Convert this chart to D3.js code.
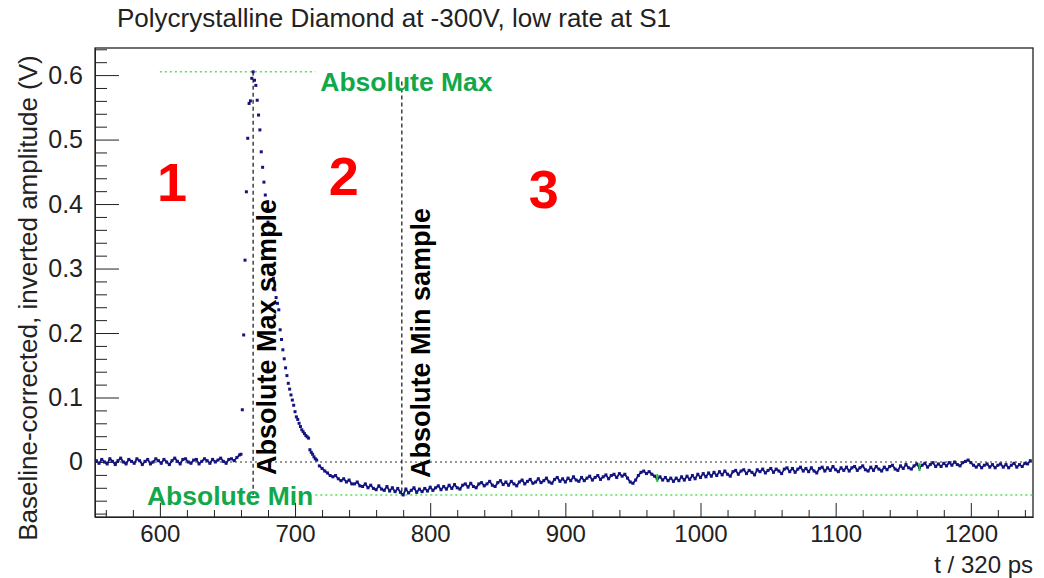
<!DOCTYPE html>
<html>
<head>
<meta charset="utf-8">
<script src="https://cdn.jsdelivr.net/npm/d3@7/dist/d3.min.js"></script>
<style>
  body { margin: 0; background: #fff; }
  svg { display: block; font-family: "Liberation Sans", Arial, sans-serif; }
</style>
</head>
<body>
<div id="chart"></div>
<script>
// Titel und Achsen
const chartTitle = "Polycrystalline Diamond at -300V, low rate at S1";
const xLabel = "t / 320 ps";
const yLabel = "Baseline-corrected, inverted amplitude (V)";
const xTicks = [600, 700, 800, 900, 1000, 1100, 1200];
const yTicks = [0, 0.1, 0.2, 0.3, 0.4, 0.5, 0.6];

// Baseline vor dem Puls (t = 553, 555, ... 659)
const preStart = 553, preStep = 2;
const preValues = [
  0.002, -0.002, 0.004, 0.000, -0.003, 0.005, 0.001, -0.004, 0.002, 0.006,
  0.000, -0.003, 0.004, 0.001, -0.002, 0.005, 0.002, -0.004, 0.001, 0.004,
  -0.003, 0.000, 0.005, 0.002, -0.002, 0.004, 0.000, -0.004, 0.002, 0.006,
  0.001, -0.003, 0.004, 0.005, 0.000, -0.002, 0.003, 0.004, -0.003, 0.001,
  0.005, 0.002, -0.002, 0.004, 0.000, 0.003, 0.006, 0.001, -0.002, 0.004,
  0.005, 0.002, 0.007, 0.011
];

// Puls (t = 660 ... 716, jedes Sample)
const pulseStart = 660, pulseStep = 1;
const pulseValues = [
  0.012, 0.081, 0.197, 0.313, 0.419, 0.502, 0.556, 0.560, 0.595, 0.605,
  0.592, 0.584, 0.561, 0.538, 0.515, 0.481, 0.457, 0.434, 0.414, 0.392,
  0.372, 0.355, 0.330, 0.305, 0.285, 0.267, 0.255, 0.246, 0.236, 0.205,
  0.190, 0.174, 0.160, 0.146, 0.134, 0.122, 0.113, 0.104, 0.096, 0.088,
  0.078, 0.070, 0.066, 0.060, 0.055, 0.050, 0.047, 0.044, 0.041, 0.039,
  0.037, 0.019, 0.015, 0.012, 0.008, 0.005, 0.003
];

// Unterschwinger und Rueckkehr (t = 718, 720, ... 1244)
const tailStart = 718, tailStep = 2;
const tailValues = [
  -0.006, -0.010, -0.014, -0.017, -0.021, -0.023, -0.021, -0.026, -0.029, -0.026,
  -0.031, -0.028, -0.034, -0.034, -0.031, -0.037, -0.038, -0.034, -0.040, -0.036,
  -0.041, -0.043, -0.037, -0.042, -0.044, -0.038, -0.045, -0.040, -0.046, -0.041,
  -0.047, -0.051, -0.042, -0.048, -0.044, -0.040, -0.047, -0.042, -0.046, -0.041,
  -0.045, -0.039, -0.044, -0.040, -0.037, -0.043, -0.038, -0.042, -0.036, -0.041,
  -0.035, -0.040, -0.042, -0.036, -0.034, -0.039, -0.033, -0.038, -0.040, -0.034,
  -0.032, -0.037, -0.034, -0.030, -0.036, -0.038, -0.032, -0.029, -0.035, -0.031,
  -0.036, -0.030, -0.034, -0.037, -0.031, -0.028, -0.034, -0.030, -0.027, -0.033,
  -0.031, -0.026, -0.032, -0.029, -0.025, -0.031, -0.033, -0.027, -0.024, -0.030,
  -0.026, -0.031, -0.025, -0.029, -0.023, -0.028, -0.030, -0.024, -0.029, -0.025,
  -0.022, -0.028, -0.024, -0.021, -0.027, -0.023, -0.020, -0.026, -0.021, -0.019,
  -0.024, -0.018, -0.022, -0.019, -0.025, -0.031, -0.033, -0.028, -0.021, -0.016,
  -0.014, -0.018, -0.015, -0.019, -0.022, -0.026, -0.023, -0.028, -0.024, -0.029,
  -0.025, -0.030, -0.025, -0.029, -0.023, -0.028, -0.022, -0.027, -0.021, -0.026,
  -0.019, -0.024, -0.018, -0.023, -0.017, -0.022, -0.016, -0.021, -0.015, -0.020,
  -0.014, -0.019, -0.022, -0.015, -0.013, -0.019, -0.014, -0.012, -0.018, -0.013,
  -0.016, -0.020, -0.012, -0.015, -0.011, -0.017, -0.013, -0.010, -0.016, -0.011,
  -0.014, -0.018, -0.011, -0.009, -0.015, -0.010, -0.016, -0.011, -0.008, -0.014,
  -0.010, -0.015, -0.009, -0.014, -0.017, -0.010, -0.008, -0.014, -0.009, -0.013,
  -0.007, -0.012, -0.015, -0.009, -0.013, -0.008, -0.014, -0.009, -0.007, -0.013,
  -0.009, -0.006, -0.012, -0.014, -0.008, -0.013, -0.007, -0.011, -0.014, -0.008,
  -0.012, -0.007, -0.005, -0.011, -0.013, -0.006, -0.010, -0.004, -0.009, -0.011,
  -0.006, -0.003, -0.009, -0.005, -0.002, -0.008, -0.004, -0.001, -0.007, -0.003,
  -0.007, -0.002, -0.006, -0.001, -0.005, 0.000, -0.004, -0.006, -0.001, 0.001,
  0.003, -0.001, -0.005, -0.008, -0.004, -0.009, -0.005, -0.003, -0.008, -0.004,
  -0.009, -0.005, -0.003, -0.008, -0.004, -0.009, -0.005, -0.002, -0.008, -0.004,
  -0.007, -0.002, -0.003, 0.002
];

// einzelne gruene Punkte
const greenT = [968, 1162];
const greenV = [-0.025, -0.008];

// Markierungen: absolutes Maximum / Minimum
const maxT = 669, maxV = 0.605;
const minT = 779, minV = -0.051;
const maxLineT = [600, 715];
const minLineT = [715, 1246];
const minSampleTop = 0.59;

// Bereiche 1, 2, 3
const regionLabels = ["1", "2", "3"];
const regionT = [609, 736, 884];
const regionV = [0.435, 0.445, 0.425];

// Segmente zu Punkten zusammenbauen
function segment(start, step, values) {
    return values.map((v, i) => ({ t: start + i * step, v: v }));
}
const preData = segment(preStart, preStep, preValues);
const pulseData = segment(pulseStart, pulseStep, pulseValues);
const tailData = segment(tailStart, tailStep, tailValues);
const allData = preData.concat(pulseData, tailData);

const width = 1044, height = 578;
const plot = { left: 95, right: 1033, top: 48, bottom: 517 };

const svg = d3.select("#chart").append("svg")
    .attr("width", width)
    .attr("height", height);

const x = d3.scaleLinear().domain([552, 1246]).range([plot.left, plot.right]);
const y = d3.scaleLinear().domain([-0.0853, 0.642]).range([plot.bottom, plot.top]);

// Titel
svg.append("text")
    .attr("x", 117)
    .attr("y", 27)
    .attr("font-size", "26px")
    .attr("fill", "#222")
    .text(chartTitle);

// Achsen (Ticks nach innen wie in ROOT)
const xMinor = d3.range(560, 1246, 20).filter(d => d % 100 !== 0);
const yMinor = d3.range(-8, 65, 2).map(d => d / 100).filter(d => Math.round(d * 100) % 10 !== 0);

const xAxis = svg.append("g")
    .attr("transform", `translate(0, ${plot.bottom})`)
    .call(d3.axisBottom(x).tickValues(xTicks).tickSize(-14).tickPadding(6).tickSizeOuter(0)
        .tickFormat(d3.format("d")));
svg.append("g")
    .attr("transform", `translate(0, ${plot.bottom})`)
    .call(d3.axisBottom(x).tickValues(xMinor).tickSize(-7).tickFormat("").tickSizeOuter(0))
    .select(".domain").remove();

const yAxis = svg.append("g")
    .attr("transform", `translate(${plot.left}, 0)`)
    .call(d3.axisLeft(y).tickValues(yTicks).tickSize(-24).tickPadding(12).tickSizeOuter(0)
        .tickFormat(d => d === 0 ? "0" : d.toFixed(1)));
svg.append("g")
    .attr("transform", `translate(${plot.left}, 0)`)
    .call(d3.axisLeft(y).tickValues(yMinor).tickSize(-12).tickFormat("").tickSizeOuter(0))
    .select(".domain").remove();

svg.selectAll(".tick text")
    .attr("font-family", "Liberation Sans, Arial, sans-serif")
    .attr("fill", "#222");
xAxis.selectAll(".tick text").attr("font-size", "24px").attr("dy", "0.8em");
yAxis.selectAll(".tick text").attr("font-size", "25px");
svg.selectAll(".tick line, .domain").attr("stroke", "#222");

// Rahmen
svg.append("rect")
    .attr("x", plot.left)
    .attr("y", plot.top)
    .attr("width", plot.right - plot.left)
    .attr("height", plot.bottom - plot.top)
    .attr("fill", "none")
    .attr("stroke", "#222")
    .attr("stroke-width", 1.3);

// Achsentitel
svg.append("text")
    .attr("x", plot.right)
    .attr("y", 573)
    .attr("text-anchor", "end")
    .attr("font-size", "24px")
    .attr("fill", "#222")
    .text(xLabel);

svg.append("text")
    .attr("transform", `translate(37, 298) rotate(-90)`)
    .attr("text-anchor", "middle")
    .attr("font-size", "26px")
    .attr("fill", "#222")
    .text(yLabel);

// Nulllinie
svg.append("line")
    .attr("x1", plot.left).attr("x2", plot.right)
    .attr("y1", y(0)).attr("y2", y(0))
    .attr("stroke", "#333")
    .attr("stroke-width", 1.2)
    .attr("stroke-dasharray", "2,3");

// Gruene Linien fuer absolutes Max / Min
svg.append("line")
    .attr("x1", x(maxLineT[0])).attr("x2", x(maxLineT[1]))
    .attr("y1", y(maxV)).attr("y2", y(maxV))
    .attr("stroke", "#55e055")
    .attr("stroke-width", 1.5)
    .attr("stroke-dasharray", "2,3");
svg.append("line")
    .attr("x1", x(minLineT[0])).attr("x2", x(minLineT[1]))
    .attr("y1", y(minV)).attr("y2", y(minV))
    .attr("stroke", "#55e055")
    .attr("stroke-width", 1.5)
    .attr("stroke-dasharray", "2,3");

// Vertikale Linien bei Max- und Min-Sample
svg.append("line")
    .attr("x1", x(maxT)).attr("x2", x(maxT))
    .attr("y1", y(maxV)).attr("y2", y(minV))
    .attr("stroke", "#333")
    .attr("stroke-width", 1.4)
    .attr("stroke-dasharray", "4,3");
svg.append("line")
    .attr("x1", x(minT)).attr("x2", x(minT))
    .attr("y1", y(minSampleTop)).attr("y2", y(minV))
    .attr("stroke", "#333")
    .attr("stroke-width", 1.4)
    .attr("stroke-dasharray", "4,3");

// Datenpunkte
const navy = "#14147f";
const lineGen = d3.line().x(d => x(d.t)).y(d => y(d.v));
[preData, tailData].forEach(seg => {
    svg.append("path")
        .datum(seg)
        .attr("d", lineGen)
        .attr("fill", "none")
        .attr("stroke", navy)
        .attr("stroke-width", 1.8);
});
svg.append("g").selectAll("rect")
    .data(allData)
    .enter()
    .append("rect")
    .attr("x", d => x(d.t) - 1.5)
    .attr("y", d => y(d.v) - 1.5)
    .attr("width", 3)
    .attr("height", 3)
    .attr("fill", navy);

svg.append("g").selectAll("rect")
    .data(greenT.map((t, i) => ({ t: t, v: greenV[i] })))
    .enter()
    .append("rect")
    .attr("x", d => x(d.t) - 1)
    .attr("y", d => y(d.v) - 4)
    .attr("width", 2)
    .attr("height", 8)
    .attr("fill", "#22cc22");

// Beschriftungen
const green = "#12a84a";
svg.append("text")
    .attr("x", x(maxLineT[1]) + 5)
    .attr("y", y(maxV) + 19)
    .attr("font-size", "26.5px")
    .attr("font-weight", "bold")
    .attr("fill", green)
    .text("Absolute Max");
svg.append("text")
    .attr("x", x(maxLineT[1]) - 2)
    .attr("y", y(minV) + 10)
    .attr("text-anchor", "end")
    .attr("font-size", "26.5px")
    .attr("font-weight", "bold")
    .attr("fill", green)
    .text("Absolute Min");

svg.append("text")
    .attr("transform", `translate(${x(maxT) + 23}, 475) rotate(-90)`)
    .attr("font-size", "27px")
    .attr("font-weight", "bold")
    .attr("fill", "#000")
    .text("Absolute Max sample");
svg.append("text")
    .attr("transform", `translate(${x(minT) + 28}, 478) rotate(-90)`)
    .attr("font-size", "27px")
    .attr("font-weight", "bold")
    .attr("fill", "#000")
    .text("Absolute Min sample");

svg.append("g").selectAll("text")
    .data(regionLabels)
    .enter()
    .append("text")
    .attr("x", (d, i) => x(regionT[i]))
    .attr("y", (d, i) => y(regionV[i]) + 20)
    .attr("text-anchor", "middle")
    .attr("font-size", "54px")
    .attr("font-weight", "bold")
    .attr("fill", "#ff0000")
    .text(d => d);
</script>
</body>
</html>
